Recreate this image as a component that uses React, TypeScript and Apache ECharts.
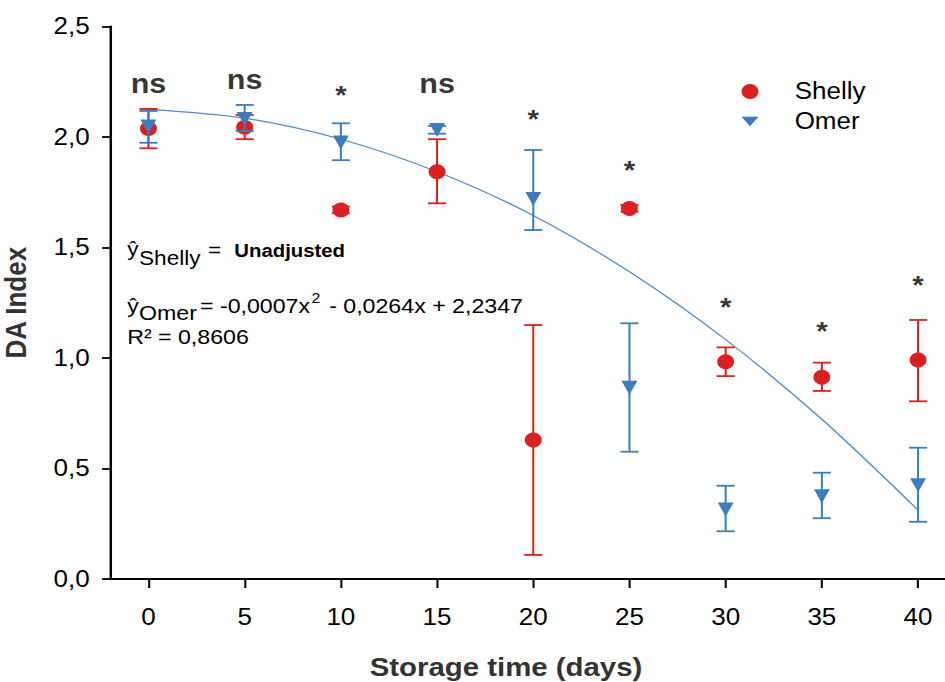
import React, { useEffect, useRef } from "react";
import * as echarts from "echarts";

// ---- data ----
const days = [0, 5, 10, 15, 20, 25, 30, 35, 40];

const shellyMean = [2.039, 2.044, 1.67, 1.843, 0.629, 1.677, 0.983, 0.913, 0.991];
const shellyLow = [1.949, 1.99, 1.655, 1.7, 0.109, 1.662, 0.918, 0.851, 0.804];
const shellyHigh = [2.127, 2.1, 1.685, 1.99, 1.149, 1.692, 1.048, 0.979, 1.172];

const omerMean = [2.047, 2.081, 1.975, 2.032, 1.72, 0.865, 0.315, 0.375, 0.424];
const omerLow = [1.974, 2.027, 1.895, 2.015, 1.579, 0.576, 0.216, 0.275, 0.259];
const omerHigh = [2.118, 2.145, 2.062, 2.05, 1.941, 1.157, 0.422, 0.481, 0.594];

// fitted curve for Omer, read at each storage day
const omerFit = [2.125, 2.085, 1.99, 1.843, 1.645, 1.39, 1.083, 0.723, 0.312];

// significance marks above each day
const sigText = ["ns", "ns", "*", "ns", "*", "*", "*", "*", "*"];
const sigY = [2.24, 2.26, 2.19, 2.24, 2.08, 1.85, 1.23, 1.12, 1.33];

const yTicks = [0, 0.5, 1, 1.5, 2, 2.5];

const RED = "#de1f1f";
const BLUE = "#3a7dc0";
const FONT = "'Liberation Sans', Arial, Helvetica, sans-serif";

const W = 836; // drawn width, stretched horizontally to 945
const H = 682;

function errorBars(name: string, low: number[], high: number[], color: string, z: number) {
  return {
    type: "custom",
    name,
    z,
    silent: true,
    data: days.map((d, i) => [d, low[i], high[i]]),
    encode: { x: 0, y: [1, 2] },
    renderItem: (params: any, api: any) => {
      const x = api.value(0);
      const pLo = api.coord([x, api.value(1)]);
      const pHi = api.coord([x, api.value(2)]);
      const w = 8;
      const style = { stroke: color, lineWidth: 1.8, fill: "none" };
      return {
        type: "group",
        children: [
          { type: "line", shape: { x1: pLo[0], y1: pLo[1], x2: pHi[0], y2: pHi[1] }, style },
          { type: "line", shape: { x1: pLo[0] - w, y1: pLo[1], x2: pLo[0] + w, y2: pLo[1] }, style },
          { type: "line", shape: { x1: pHi[0] - w, y1: pHi[1], x2: pHi[0] + w, y2: pHi[1] }, style },
        ],
      };
    },
  };
}

function txt(text: string, x: number, y: number, fontSize: number, opts: any = {}) {
  return {
    type: "text",
    x,
    y,
    silent: true,
    style: {
      text,
      fontSize,
      fontFamily: FONT,
      fontWeight: opts.bold ? "bold" : "normal",
      fill: "#000",
      align: opts.align || "left",
      verticalAlign: "middle",
    },
  };
}

export default function App() {
  const ref = useRef<HTMLDivElement>(null);

  useEffect(() => {
    if (!ref.current) return;
    const chart = echarts.init(ref.current, null, { renderer: "svg" });

    const option: any = {
      animation: false,
      backgroundColor: "#fff",
      grid: {
        left: 97.3,
        right: 0,
        top: 26.5,
        bottom: 103,
        containLabel: false,
        outerBoundsMode: "none",
      },
      xAxis: {
        type: "value",
        min: -2,
        max: 41.4,
        splitLine: { show: false },
        axisLine: { show: true, onZero: false, lineStyle: { color: "#000", width: 2 } },
        axisTick: { show: true, length: 9, customValues: days, lineStyle: { color: "#000", width: 1.8 } },
        axisLabel: { show: true, customValues: days, fontSize: 23, color: "#000", margin: 27, fontFamily: FONT },
        name: "Storage time (days)",
        nameLocation: "middle",
        nameGap: 75,
        nameTextStyle: { fontSize: 26, fontWeight: "bold", color: "#333", fontFamily: FONT, padding: [0, 38, 0, 0] },
      },
      yAxis: {
        type: "value",
        min: yTicks[0],
        max: yTicks[yTicks.length - 1],
        interval: 0.5,
        splitLine: { show: false },
        axisLine: { show: true, onZero: false, lineStyle: { color: "#000", width: 2.2 } },
        axisTick: { show: true, length: 7, lineStyle: { color: "#000", width: 1.8 } },
        axisLabel: {
          fontSize: 23,
          color: "#000",
          margin: 18,
          fontFamily: FONT,
          formatter: (v: number) => v.toFixed(1).replace(".", ","),
        },
        name: "DA Index",
        nameLocation: "middle",
        nameGap: 70,
        nameRotate: 90,
        nameTextStyle: { fontSize: 26, fontWeight: "bold", color: "#333", fontFamily: FONT },
      },
      legend: {
        orient: "vertical",
        left: 651,
        top: 75,
        itemWidth: 15,
        itemHeight: 15,
        itemGap: 7,
        selectedMode: false,
        data: [
          { name: "Shelly", icon: "circle" },
          { name: "Omer", icon: "path://M0,0L16,0L8,10Z" },
        ],
        textStyle: { fontSize: 23, color: "#000", fontFamily: FONT, padding: [0, 0, 0, 27] },
      },
      series: [
        {
          type: "line",
          name: "Omer fit",
          data: days.map((d, i) => [d, omerFit[i]]),
          smooth: 0.3,
          symbol: "none",
          showSymbol: false,
          silent: true,
          z: 1,
          lineStyle: { color: "#4d8bc6", width: 1.2 },
        },
        errorBars("Shelly SE", shellyLow, shellyHigh, RED, 2),
        {
          type: "scatter",
          name: "Shelly",
          data: days.map((d, i) => [d, shellyMean[i]]),
          symbol: "circle",
          symbolSize: 15,
          itemStyle: { color: RED, opacity: 1 },
          z: 3,
          silent: true,
        },
        errorBars("Omer SE", omerLow, omerHigh, BLUE, 4),
        {
          type: "scatter",
          name: "Omer",
          data: days.map((d, i) => [d, omerMean[i]]),
          symbol: "triangle",
          symbolRotate: 180,
          symbolSize: 14,
          itemStyle: { color: BLUE, opacity: 1 },
          z: 5,
          silent: true,
        },
        {
          type: "scatter",
          name: "significance",
          symbolSize: 1,
          itemStyle: { color: "rgba(0,0,0,0)" },
          silent: true,
          z: 10,
          label: {
            show: true,
            position: "inside",
            color: "#000",
            fontWeight: "bold",
            textBorderWidth: 0,
            fontFamily: FONT,
          },
          data: days.map((d, i) => ({
            value: [d, sigY[i]],
            label: {
              show: true,
              position: "inside",
              formatter: sigText[i],
              fontSize: sigText[i] === "ns" ? 27 : 26,
              fontWeight: "bold",
              color: "#000",
              textBorderWidth: 0,
              textBorderColor: "transparent",
              fontFamily: FONT,
            },
          })),
        },
      ],
      graphic: [
        txt("ŷ", 112.5, 249, 20),
        txt("Shelly", 123, 258, 20),
        txt("=", 184, 250, 20),
        txt("Unadjusted", 207.3, 251, 18, { bold: true }),
        txt("ŷ", 112.5, 306, 20.5),
        txt("Omer", 123, 313, 20.5),
        txt("= -0,0007x", 274.3, 306, 20.5, { align: "right" }),
        txt("2", 275.5, 298, 14),
        txt("- 0,0264x + 2,2347", 291.2, 306, 20.5),
        txt("R² = 0,8606", 112.5, 337, 20.5),
      ],
    };

    chart.setOption(option);
    return () => chart.dispose();
  }, []);

  return (
    <div
      ref={ref}
      style={{
        position: "absolute",
        left: 0,
        top: 0,
        width: W,
        height: H,
        transform: `scaleX(${945 / W})`,
        transformOrigin: "0 0",
        background: "#fff",
      }}
    />
  );
}
